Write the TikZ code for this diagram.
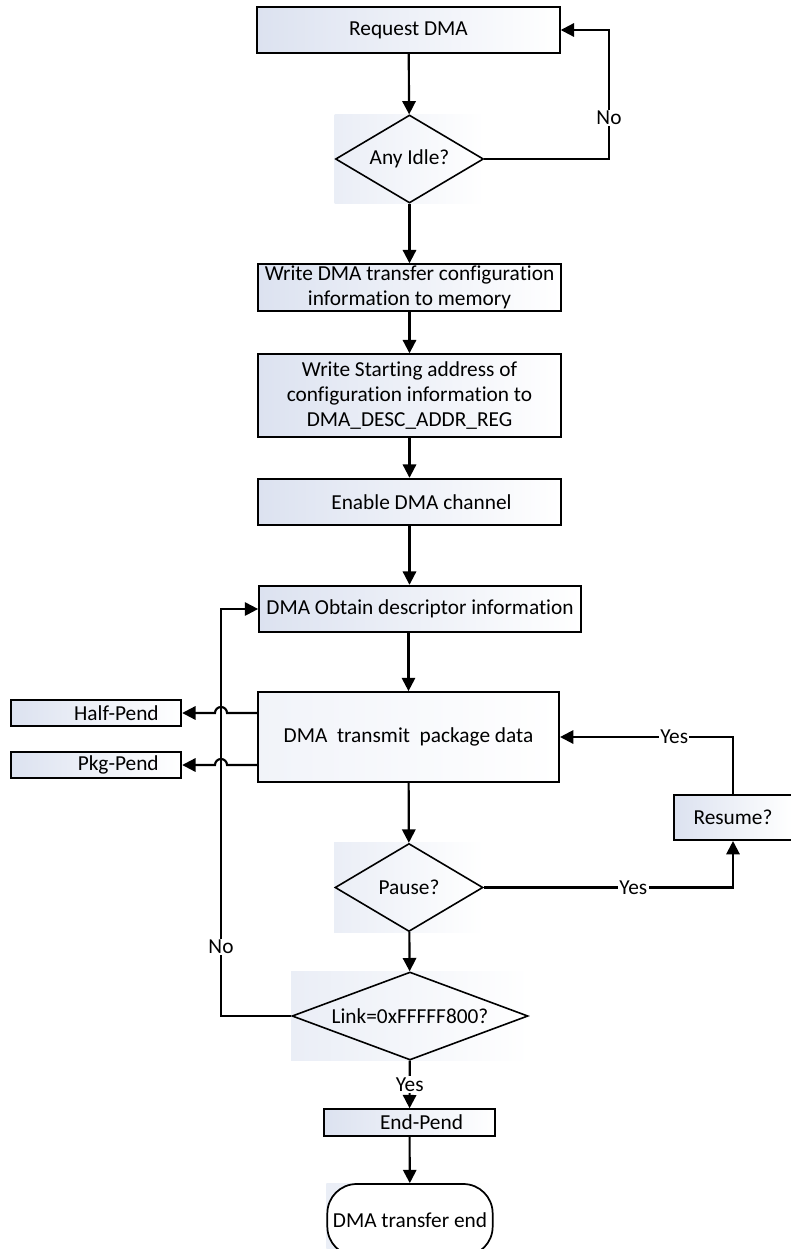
\documentclass[tikz,border=0pt]{standalone}
\usepackage{fontspec}
\setmainfont{Carlito}[Ligatures=NoCommon]
\usetikzlibrary{arrows.meta,positioning,calc,shapes.geometric,backgrounds}
\definecolor{FlowShade}{HTML}{DCE2F0}

\begin{document}
\begin{tikzpicture}[
  x=0.75pt,y=-0.75pt,
  >={Triangle[length=10pt,width=10pt]},
  every node/.style={font=\fontsize{16}{18.75}\selectfont,align=center},
  procbox/.style={draw,line width=1.3pt,left color=FlowShade,right color=white,
    minimum width=227pt,minimum height=35pt,inner sep=0pt},
  pendbox/.style={draw,line width=1.3pt,left color=FlowShade,right color=white,
    minimum width=128pt,minimum height=20pt,inner sep=0pt},
  decide/.style={draw,line width=1.2pt,diamond,aspect=1.7,inner sep=0pt,
    minimum width=111pt,minimum height=66pt},
  endcap/.style={draw,line width=1.3pt,rounded corners=22pt,fill=white,
    minimum width=124pt,minimum height=54pt,inner sep=0pt},
  flow/.style={->,line width=1.6pt},
  tag/.style={fill=white,inner sep=1pt}
]
\useasboundingbox (0,0) rectangle (791,1249);
\clip (0,0) rectangle (791,1249);

\node[procbox] (req) at (408.5,30) {Request DMA};
\node[decide] (idle) at (409.5,159) {Any Idle?};
\node[procbox] (wcfg) at (409.5,287.5) {Write DMA transfer configuration\\information to memory};
\node[procbox,minimum height=62pt] (waddr) at (409.5,395.5) {Write Starting address of\\configuration information to\\DMA\_DESC\_ADDR\_REG};
\node[procbox] (enable) at (409.5,502) {\hspace*{18pt}Enable DMA channel};
\node[procbox,minimum width=241.5pt] (obtain) at (420,609) {DMA Obtain descriptor information};
\node[procbox,minimum width=226pt,minimum height=67.5pt,left color=FlowShade!40] (trans) at (408.5,737) {DMA\ \ transmit\ \ package data};
\node[pendbox,text width=94pt,align=right] (half) at (96,713) {Half-Pend};
\node[pendbox,text width=94pt,align=right] (pkg) at (96,765) {Pkg-Pend};
\node[procbox,minimum width=88pt,minimum height=34pt] (resume) at (733,817.5) {Resume?};
\node[decide] (pause) at (409,887.5) {Pause?};
\node[decide,minimum width=177pt,aspect=2.7] (link) at (410,1016) {Link=0xFFFFF800?};
\node[pendbox] (endp) at (409.5,1122.5) {\hspace*{18pt}End-Pend};
\node[endcap] (term) at (410,1220) {DMA transfer end};

\coordinate (noright) at (609,118);
\coordinate (loopx) at (221,947);

% shaded squares behind the decisions
\begin{scope}[on background layer]
\foreach \d in {idle,pause,link,term}
  \shade[left color=FlowShade!60,right color=white]
    (\d.west |- \d.north) rectangle (\d.east |- \d.south);
\end{scope}

\draw[flow] (req) -- (idle);
\draw[flow] (idle) -- (wcfg);
\draw[flow] (wcfg) -- (waddr);
\draw[flow] (waddr) -- (enable);
\draw[flow] (enable) -- (enable |- obtain.north);
\draw[flow] (obtain.south -| trans.north) -- (trans);
\draw[flow] (trans) -- (pause);
\draw[flow] (pause) -- (link);
\draw[flow] (link) -- node[tag]{Yes} (endp);
\draw[flow] (endp) -- (term);

\draw[flow] (idle.east) -| (noright) node[tag]{No} |- (req.east);
\draw[flow] (link.west) -| (loopx) node[tag]{No} |- (obtain.west);
\draw[flow] (pause.east) -| node[tag,pos=0.3]{Yes} (resume.south);
\draw[flow] (resume.north) |- node[tag,pos=0.67]{Yes} (trans.east);

\draw[flow] (trans.west |- half) -- ($(loopx |- half)+(4.5pt,0)$)
  arc[start angle=0,end angle=180,radius=4.5pt] -- (half.east);
\draw[flow] (trans.west |- pkg) -- ($(loopx |- pkg)+(4.5pt,0)$)
  arc[start angle=0,end angle=180,radius=4.5pt] -- (pkg.east);
\end{tikzpicture}
\end{document}
